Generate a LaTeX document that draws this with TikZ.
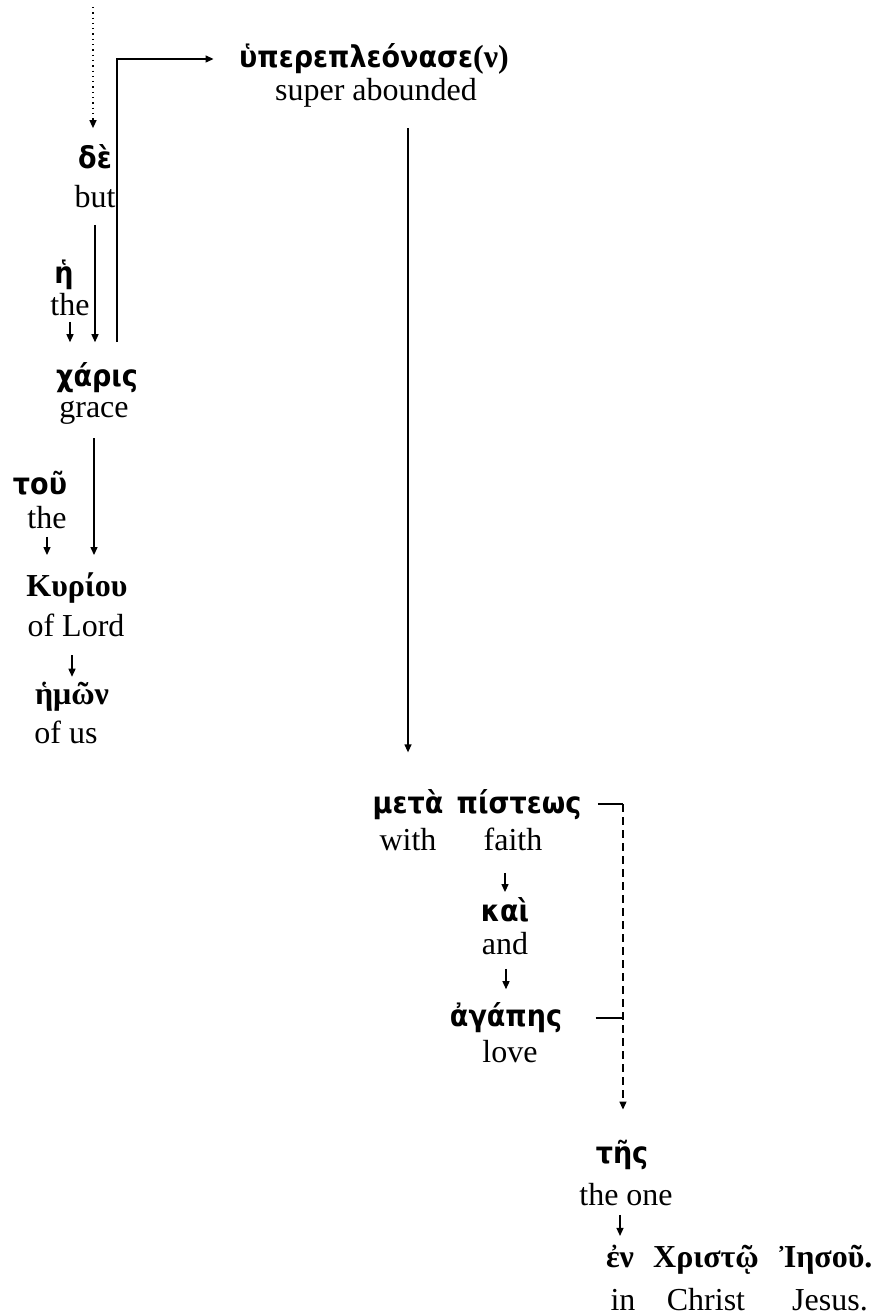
\documentclass[tikz,border=0pt]{standalone}
\usepackage{fontspec}
\setmainfont{Liberation Serif}
\newfontfamily\grksans[FakeStretch=0.9]{DejaVu Sans}
\usetikzlibrary{arrows.meta}

\begin{document}
\begin{tikzpicture}[x=0.5pt, y=-0.5pt, line width=.65pt,
    eng/.style={inner sep=0pt, font=\fontsize{16}{18}\selectfont},
    grk/.style={inner sep=0pt, font=\grksans\bfseries\fontsize{15}{17}\selectfont},
    grkser/.style={inner sep=0pt, font=\bfseries\fontsize{16}{18}\selectfont},
    arr/.style={-{Triangle[length=4pt, width=3.5pt]}}]
    \fill[white] (0,0) rectangle (881,1315);
    \useasboundingbox (0,0) rectangle (881,1315);

    % main verb
    \node[grk] (huper) at (374,59) {ὑπερεπλεόνασε{\fontsize{16}{18}\rmfamily\bfseries(ν)}};
    \node[eng] (superab) at (376,93) {super abounded};

    % subject side
    \node[grk] (de) at (95,157) {δὲ};
    \node[eng] (but) at (95,197) {but};
    \node[grk] (he) at (64,275) {ἡ};
    \node[eng] (the1) at (70,305) {the};
    \node[grk] (charis) at (97,378) {χάρις};
    \node[eng] (grace) at (94,413) {grace};
    \node[grk] (tou) at (40,483) {τοῦ};
    \node[eng] (the2) at (47,518) {the};
    \node[grkser] (kuriou) at (77,588) {Κυρίου};
    \node[eng] (lord) at (76,625) {of Lord};
    \node[grkser] (hemon) at (72,697) {ἡμῶν};
    \node[eng] (us) at (66,732) {of us};

    % prepositional phrase
    \node[grk, anchor=base] (meta) at (408,813) {μετὰ};
    \node[grk, anchor=base] (pisteos) at (519,813) {πίστεως};
    \node[eng, anchor=base] (with) at (408,850) {with};
    \node[eng, anchor=base] (faith) at (513,850) {faith};
    \node[grk] (kai) at (505,910) {καὶ};
    \node[eng] (and) at (505,944) {and};
    \node[grk] (agapes) at (506,1018) {ἀγάπης};
    \node[eng] (love) at (510,1052) {love};
    \node[grk] (tes) at (622,1155) {τῆς};
    \node[eng] (theone) at (626,1195) {the one};
    \node[grkser, anchor=base] (en) at (620,1267) {ἐν};
    \node[grkser, anchor=base] (christou) at (706,1267) {Χριστῷ};
    \node[grkser, anchor=base] (iesou) at (826,1267) {Ἰησοῦ.};
    \node[eng, anchor=base] (in) at (623,1310) {in};
    \node[eng, anchor=base] (christ) at (706,1310) {Christ};
    \node[eng, anchor=base] (jesus) at (830,1310) {Jesus.};

    % connectors
    \coordinate (top) at (93,7);
    \draw[arr, dotted] (top) -- ([yshift=8pt]de.north -| top);
    \draw[arr] ([yshift=-8pt]but.south) -- ([yshift=10pt]charis.north -| but.south);
    \draw[arr] ([yshift=-2.5pt]the1.south) -- ([yshift=10pt]charis.north -| the1.south);
    \draw[arr] ([xshift=10pt, yshift=10pt]charis.north) |- ([xshift=-12.5pt]huper.west);
    \draw[arr] ([yshift=-6.5pt]grace.south) -- ([yshift=8.5pt]kuriou.north -| grace.south);
    \draw[arr] ([yshift=-3.5pt]the2.south) -- ([yshift=8.5pt]kuriou.north -| the2.south);
    \draw[arr] ([yshift=-9pt]lord.south -| hemon.north) -- ([yshift=2.5pt]hemon.north);
    \draw[arr] ([yshift=-10pt]superab.south -| meta.north) -- ([yshift=18pt]meta.north);
    \draw[arr] ([yshift=-11pt]faith.south -| kai.north) -- ([yshift=2.5pt]kai.north);
    \draw[arr] ([yshift=-6.5pt]and.south -| agapes.north) -- ([yshift=6.5pt]agapes.north);
    \draw ([xshift=8pt]pisteos.east) -- ++(25,0) coordinate (brk);
    \draw ([xshift=16.5pt]agapes.east) -- (agapes.east -| brk);
    \draw[arr, dash pattern=on 4pt off 2.5pt] (brk) -- ([yshift=15pt]tes.north -| brk);
    \draw[arr] ([yshift=-4pt]theone.south -| en.north) -- ([yshift=4pt]en.north);
\end{tikzpicture}
\end{document}
